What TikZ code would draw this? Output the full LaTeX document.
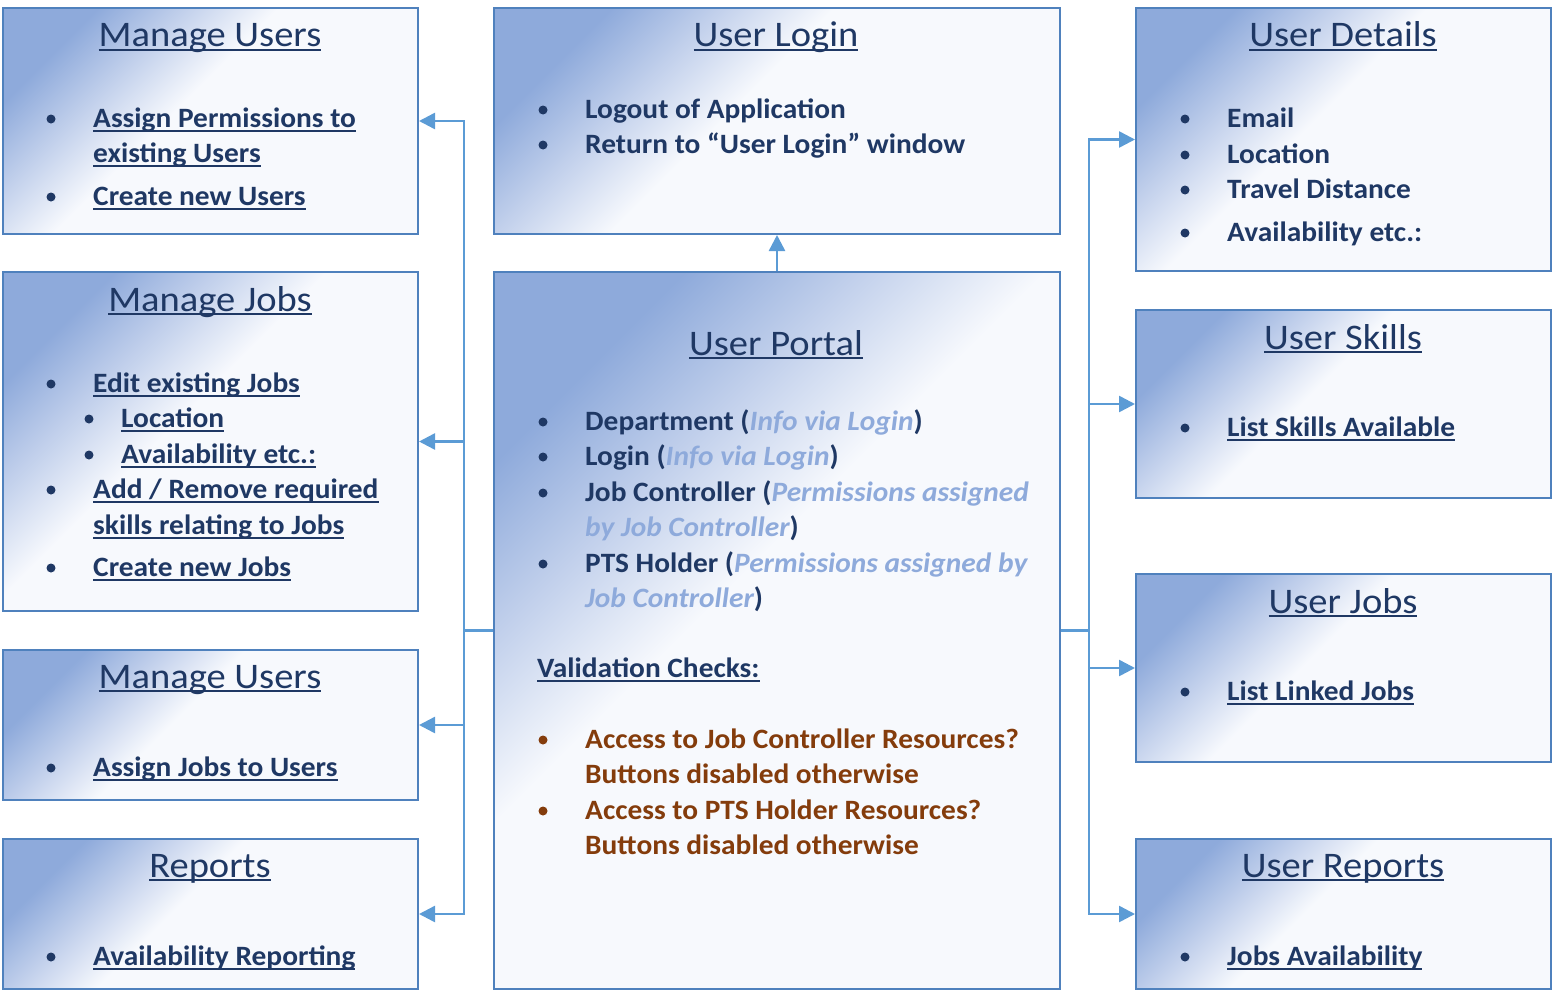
\documentclass[tikz,border=0pt]{standalone}
\usepackage{fontspec}
\setmainfont{Carlito}[FakeStretch=1.05]
\newfontfamily\ttlfont{Carlito}[FakeStretch=1.07]
\usetikzlibrary{arrows.meta}
\definecolor{navy}{HTML}{1F3864}
\definecolor{lite}{HTML}{8EAADB}
\definecolor{brn}{HTML}{843C0C}
\definecolor{bord}{HTML}{4F81BD}
\definecolor{conn}{HTML}{5B9BD5}
\definecolor{gA}{HTML}{8EAADB}
\definecolor{gM}{HTML}{C3D1EC}
\definecolor{gW}{HTML}{F7F9FD}
\pgfdeclarehorizontalshading{boxgrad}{100bp}{color(0bp)=(gA); color(25bp)=(gA); color(35bp)=(gM); color(45bp)=(gW); color(100bp)=(gW)}
\newcommand{\myu}[1]{\setbox0\hbox{#1}\rlap{\vrule height -2pt depth 4pt width \wd0}\box0}
\newcommand{\lt}[1]{{\color{lite}\itshape #1}}
\tikzset{
  box/.style={draw=bord, line width=2pt, shading=boxgrad, shading angle=-45, rectangle, inner sep=0pt, anchor=north west},
  txt/.style={inner sep=0pt, anchor=base west, text=navy, font=\fontsize{28}{33}\selectfont\bfseries},
  ttl/.style={inner sep=0pt, anchor=base, text=navy, font=\ttlfont\fontsize{36}{43}\selectfont},
  conn/.style={draw=conn, line width=2.5pt, -{Triangle[length=16pt,width=16pt]}},
  bus/.style={draw=conn, line width=2.5pt}
}
\newcommand{\bitem}[5]{\fill[navy] (#2,#4) circle (4.5);\node[txt] (#1) at (#3,#4+8.5) {#5};}
\newcommand{\citem}[4]{\node[txt] (#1) at (#2,#3+8.5) {#4};}
\newcommand{\ritem}[5]{\fill[brn] (#2,#4) circle (4.5);\node[txt,text=brn] (#1) at (#3,#4+8.5) {#5};}
\begin{document}
\begin{tikzpicture}[x=1pt,y=-1pt]
\useasboundingbox (0,0) rectangle (1552,990);
% boxes
\node[box, minimum width=415pt, minimum height=226pt] (mu) at (2,7) {};
\node[box, minimum width=415pt, minimum height=339pt] (mj) at (2,271) {};
\node[box, minimum width=415pt, minimum height=150pt] (mu2) at (2,649) {};
\node[box, minimum width=415pt, minimum height=150pt] (rep) at (2,838) {};
\node[box, minimum width=566pt, minimum height=226pt] (login) at (493,7) {};
\node[box, minimum width=566pt, minimum height=717pt] (portal) at (493,271) {};
\node[box, minimum width=415pt, minimum height=263pt] (det) at (1135,7) {};
\node[box, minimum width=415pt, minimum height=188pt] (sk) at (1135,309) {};
\node[box, minimum width=415pt, minimum height=188pt] (jb) at (1135,573) {};
\node[box, minimum width=415pt, minimum height=150pt] (urep) at (1135,838) {};
% connectors
\coordinate (lb) at ([xshift=-29pt]portal.west);
\coordinate (rb) at ([xshift=28pt]portal.east);
\draw[bus] (portal.west) -- (lb);
\draw[bus] (portal.east) -- (rb);
\draw[conn] (lb) |- (mu.east);
\draw[conn] (lb) |- (mj.east);
\draw[conn] (lb) |- (mu2.east);
\draw[conn] (lb) |- (rep.east);
\draw[conn] (rb) |- (det.west);
\draw[conn] (rb) |- (sk.west);
\draw[conn] (rb) |- (jb.west);
\draw[conn] (rb) |- (urep.west);
\draw[conn] (portal.north) -- (login.south);
% left texts
\node[ttl] (t1) at (210,47) {\myu{Manage Users}};
\bitem{a1}{51}{93}{119}{\myu{Assign Permissions to}}
\citem{a2}{93}{154}{\myu{existing Users}}
\bitem{a3}{51}{93}{197}{\myu{Create new Users}}
\node[ttl] (t2) at (210,311) {\myu{Manage Jobs}};
\bitem{b1}{51}{93}{384}{\myu{Edit existing Jobs}}
\bitem{b2}{89}{121}{419}{\myu{Location}}
\bitem{b3}{89}{121}{455}{\myu{Availability etc.:}}
\bitem{b4}{51}{93}{490}{\myu{Add / Remove required}}
\citem{b5}{93}{526}{\myu{skills relating to Jobs}}
\bitem{b6}{51}{93}{568}{\myu{Create new Jobs}}
\node[ttl] (t3) at (210,688) {\myu{Manage Users}};
\bitem{c1}{51}{93}{768}{\myu{Assign Jobs to Users}}
\node[ttl] (t4) at (210,877) {\myu{Reports}};
\bitem{d1}{51}{93}{957}{\myu{Availability Reporting}}
% center texts
\node[ttl] (t5) at (776,47) {\myu{User Login}};
\bitem{e1}{543}{585}{110}{Logout of Application}
\bitem{e2}{543}{585}{145}{Return to “User Login” window}
\node[ttl] (t6) at (776,355) {\myu{User Portal}};
\bitem{f1}{543}{585}{422}{Department (\lt{Info via Login})}
\bitem{f2}{543}{585}{457}{Login (\lt{Info via Login})}
\bitem{f3}{543}{585}{493}{Job Controller (\lt{Permissions assigned}}
\citem{f4}{585}{528}{\lt{by Job Controller})}
\bitem{f5}{543}{585}{564}{PTS Holder (\lt{Permissions assigned by}}
\citem{f6}{585}{599}{\lt{Job Controller})}
\citem{f7}{537}{669}{\myu{Validation Checks:}}
\ritem{g1}{543}{585}{740}{Access to Job Controller Resources?}
\node[txt,text=brn] (g2) at (585,775+8.5) {Buttons disabled otherwise};
\ritem{g3}{543}{585}{811}{Access to PTS Holder Resources?}
\node[txt,text=brn] (g4) at (585,846+8.5) {Buttons disabled otherwise};
% right texts
\node[ttl] (t7) at (1343,47) {\myu{User Details}};
\bitem{h1}{1185}{1227}{119}{Email}
\bitem{h2}{1185}{1227}{155}{Location}
\bitem{h3}{1185}{1227}{190}{Travel Distance}
\bitem{h4}{1185}{1227}{233}{Availability etc.:}
\node[ttl] (t8) at (1343,349) {\myu{User Skills}};
\bitem{i1}{1185}{1227}{428}{\myu{List Skills Available}}
\node[ttl] (t9) at (1343,613) {\myu{User Jobs}};
\bitem{j1}{1185}{1227}{692}{\myu{List Linked Jobs}}
\node[ttl] (t10) at (1343,877) {\myu{User Reports}};
\bitem{k1}{1185}{1227}{957}{\myu{Jobs Availability}}
\end{tikzpicture}
\end{document}
